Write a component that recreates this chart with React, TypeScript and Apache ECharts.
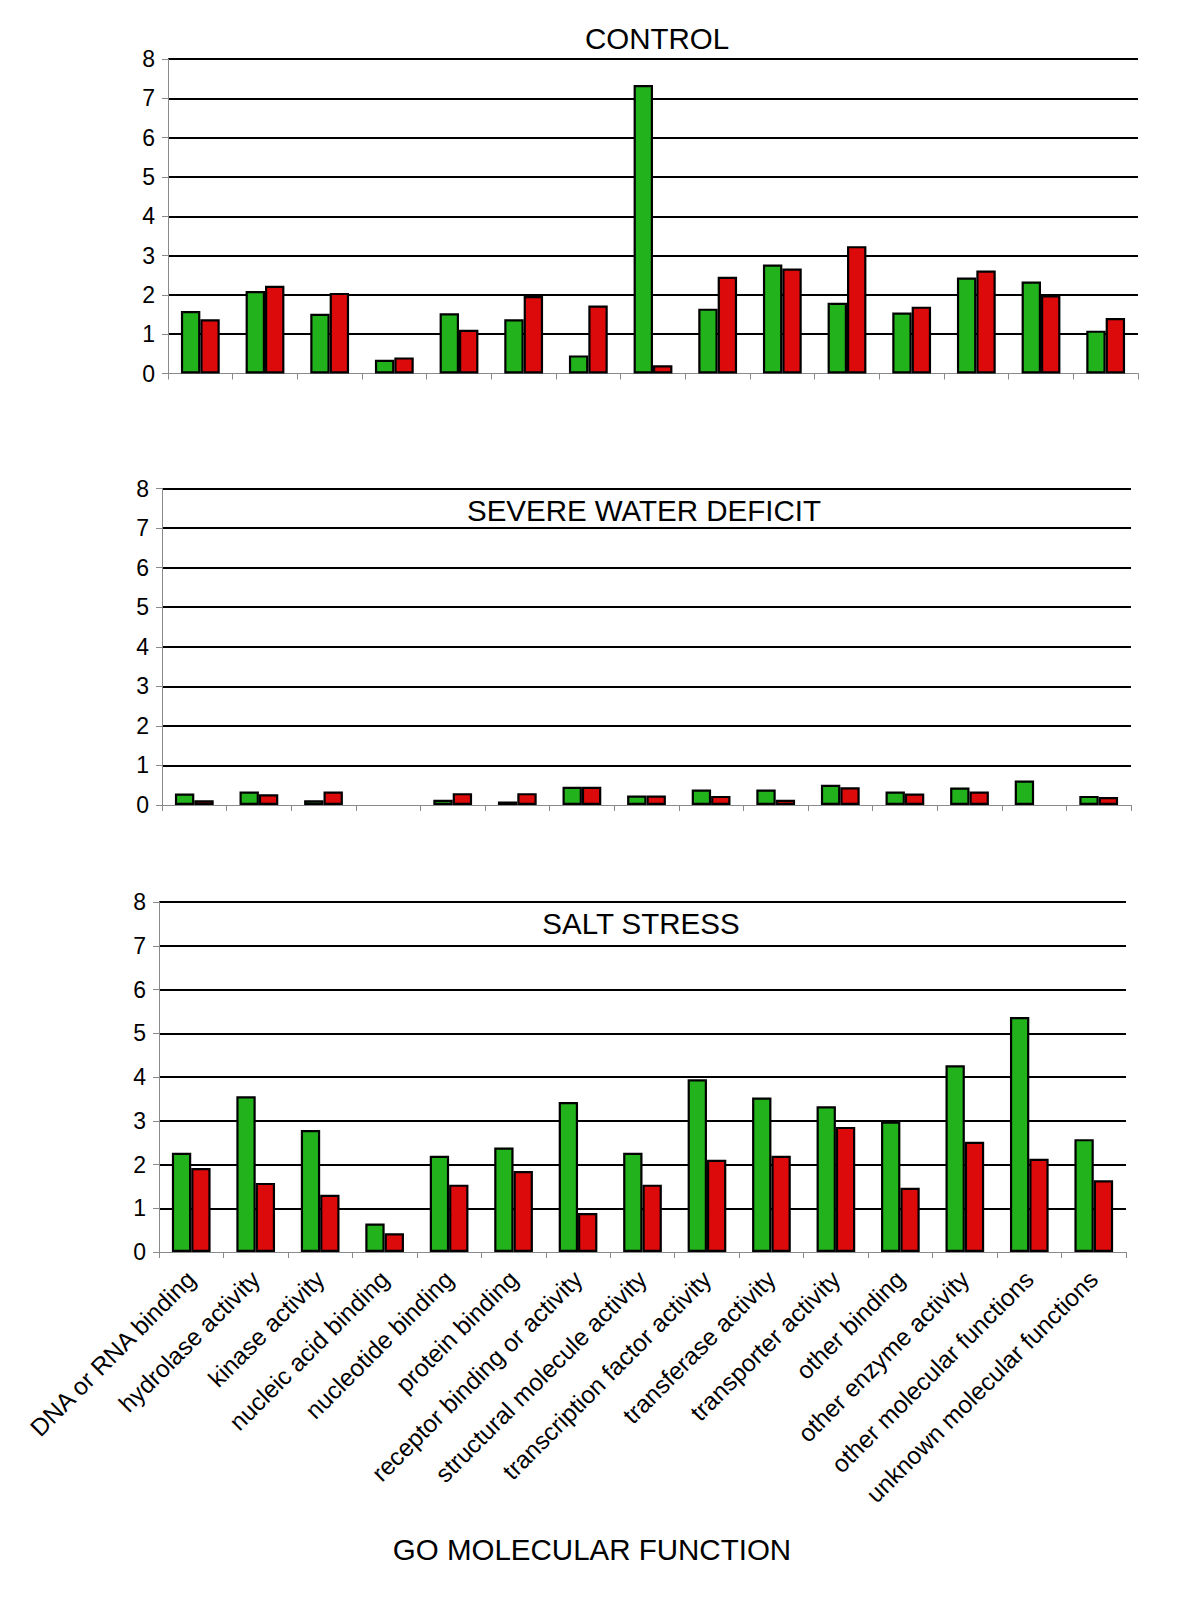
import React, { useEffect, useRef } from "react";
import * as echarts from "echarts";

const categories = [
  "DNA or RNA binding",
  "hydrolase activity",
  "kinase activity",
  "nucleic acid binding",
  "nucleotide binding",
  "protein binding",
  "receptor binding or activity",
  "structural molecule activity",
  "transcription factor activity",
  "transferase activity",
  "transporter activity",
  "other binding",
  "other enzyme activity",
  "other molecular functions",
  "unknown molecular functions",
];

const yTicks = [0, 1, 2, 3, 4, 5, 6, 7, 8];

const controlGreen = [1.59, 2.1, 1.52, 0.35, 1.53, 1.38, 0.46, 7.34, 1.65, 2.77, 1.8, 1.55, 2.44, 2.34, 1.09];
const controlRed = [1.38, 2.23, 2.05, 0.41, 1.11, 1.97, 1.73, 0.21, 2.46, 2.67, 3.24, 1.7, 2.62, 1.99, 1.41];
const waterGreen = [0.29, 0.34, 0.12, 0, 0.13, 0.09, 0.46, 0.24, 0.39, 0.39, 0.51, 0.34, 0.44, 0.62, 0.23];
const waterRed = [0.12, 0.27, 0.34, 0, 0.3, 0.3, 0.46, 0.24, 0.23, 0.13, 0.45, 0.29, 0.34, 0, 0.2];
const saltGreen = [2.27, 3.56, 2.79, 0.65, 2.2, 2.39, 3.43, 2.27, 3.95, 3.53, 3.33, 2.98, 4.27, 5.37, 2.58];
const saltRed = [1.92, 1.58, 1.31, 0.43, 1.54, 1.85, 0.89, 1.54, 2.11, 2.2, 2.86, 1.47, 2.52, 2.13, 1.64];

const panelTitles = ["CONTROL", "SEVERE WATER DEFICIT", "SALT STRESS"];
const xAxisTitle = "GO MOLECULAR FUNCTION";

const FONT = "'Liberation Sans', Arial, Helvetica, sans-serif";
const GREEN = "#22b21c";
const RED = "#dc0a0a";

export default function App() {
  const ref = useRef<HTMLDivElement>(null);

  useEffect(() => {
    if (!ref.current) return;
    const chart = echarts.init(ref.current, undefined, { renderer: "svg" });

    const grids = [
      { left: 168, top: 59, width: 970, height: 314.5 },
      { left: 162, top: 488.5, width: 969, height: 316.5 },
      { left: 159, top: 902, width: 967, height: 350 },
    ];

    const gridLineColors = yTicks.map((v) => (v === 0 ? "rgba(0,0,0,0)" : "#000"));

    const xAxes = grids.map((_, i) => ({
      type: "category",
      gridIndex: i,
      data: categories,
      boundaryGap: true,
      axisLine: { show: true, lineStyle: { color: "#8a8a8a", width: 1 } },
      axisTick: { show: true, length: 6, lineStyle: { color: "#8a8a8a", width: 1 } },
      axisLabel: {
        show: i === 2,
        rotate: 45,
        interval: 0,
        margin: 23,
        fontSize: 24.5,
        color: "#000",
        fontFamily: FONT,
      },
      splitLine: { show: false },
    }));

    const yAxes = grids.map((_, i) => ({
      type: "value",
      gridIndex: i,
      min: 0,
      max: 8,
      interval: 1,
      axisLine: { show: true, lineStyle: { color: "#8a8a8a", width: 1 } },
      axisTick: { show: true, length: 6, lineStyle: { color: "#8a8a8a", width: 1 } },
      axisLabel: { fontSize: 23, color: "#000", fontFamily: FONT, margin: 13 },
      splitLine: { show: true, lineStyle: { color: gridLineColors, width: 2 } },
    }));

    const clean = (arr: number[]) => arr.map((v) => (v === 0 ? "-" : v));

    const pairs = [
      [controlGreen, controlRed],
      [waterGreen, waterRed],
      [saltGreen, saltRed],
    ];

    const series: any[] = [];
    pairs.forEach(([g, r], i) => {
      series.push({
        type: "bar",
        xAxisIndex: i,
        yAxisIndex: i,
        data: clean(g),
        barWidth: "30%",
        barGap: "0%",
        itemStyle: { color: GREEN, borderColor: "#000", borderWidth: 2.2 },
        z: 3,
      });
      series.push({
        type: "bar",
        xAxisIndex: i,
        yAxisIndex: i,
        data: clean(r),
        barWidth: "30%",
        barGap: "0%",
        itemStyle: { color: RED, borderColor: "#000", borderWidth: 2.2 },
        z: 3,
      });
    });

    const titlePos = [
      [657, 38],
      [644, 510],
      [641, 923],
    ];

    const graphic: any[] = panelTitles.map((t, i) => ({
      type: "text",
      x: titlePos[i][0],
      y: titlePos[i][1],
      z: 10,
      style: {
        text: t,
        fontSize: 29.5,
        fontFamily: FONT,
        fill: "#000",
        textAlign: "center",
        textVerticalAlign: "middle",
      },
    }));
    graphic.push({
      type: "text",
      x: 592,
      y: 1549,
      style: {
        text: xAxisTitle,
        fontSize: 29.5,
        fontFamily: FONT,
        fill: "#000",
        textAlign: "center",
        textVerticalAlign: "middle",
      },
    });

    chart.setOption({
      animation: false,
      backgroundColor: "#fff",
      grid: grids,
      xAxis: xAxes,
      yAxis: yAxes,
      series,
      graphic,
    });

    return () => chart.dispose();
  }, []);

  return (
    <div
      ref={ref}
      style={{ position: "absolute", left: 0, top: 0, width: 1200, height: 1608, background: "#fff" }}
    />
  );
}
